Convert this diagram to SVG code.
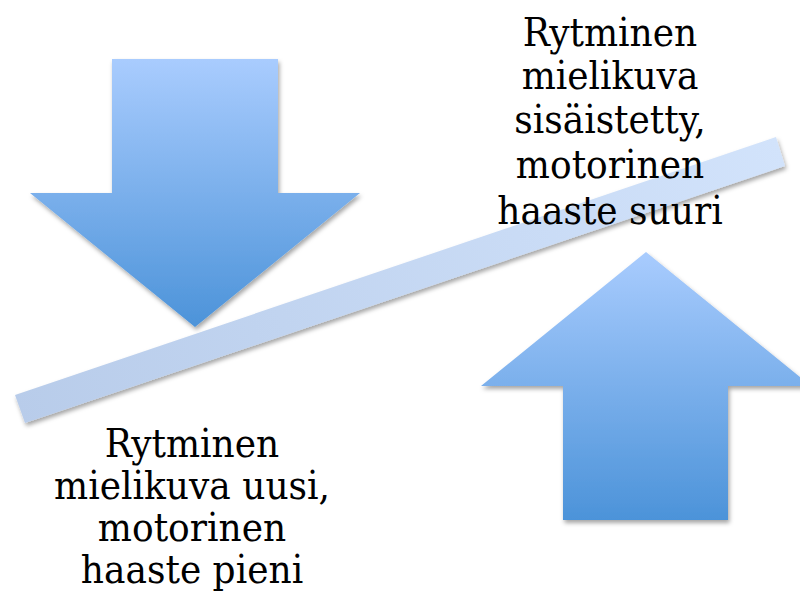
<svg xmlns="http://www.w3.org/2000/svg" width="800" height="597" viewBox="0 0 800 597">
  <defs>
    <linearGradient id="arrowGrad" x1="0" y1="0" x2="0" y2="1">
      <stop offset="0" stop-color="#A9CCFE"/>
      <stop offset="1" stop-color="#4C93D9"/>
    </linearGradient>
    <linearGradient id="barGrad" gradientUnits="userSpaceOnUse" x1="15" y1="409" x2="785" y2="151">
      <stop offset="0" stop-color="#B8CCEA"/>
      <stop offset="1" stop-color="#D2E3FB"/>
    </linearGradient>
    <filter id="shadow" x="-10%" y="-10%" width="120%" height="130%">
      <feDropShadow dx="1.5" dy="3" stdDeviation="2.2" flood-color="#000" flood-opacity="0.35"/>
    </filter>
  </defs>
  <style>
    .lbl { font-family: "DejaVu Serif", "Liberation Serif", serif; font-size: 36px; fill: #000; text-anchor: middle; }
    .arrow { fill: url(#arrowGrad); filter: url(#shadow); }
    .bar { fill: url(#barGrad); filter: url(#shadow); }
  </style>
  <rect x="0" y="0" width="800" height="597" fill="#FFFFFF"/>

  <g id="down-arrow">
    <polygon class="arrow" points="112,59 278,59 278,193 360,193 195,327 30,193 112,193"/>
  </g>

  <g id="up-arrow">
    <polygon class="arrow" points="646,252 811,386 728,386 728,520 563,520 563,386 481,386"/>
  </g>

  <g id="connectors">
    <polygon id="seesaw-bar" class="bar" points="15,395 776,137 785,166 25,423"/>
  </g>

  <g id="label-top">
    <text class="lbl" transform="translate(610,46) scale(1,1.1)">Rytminen</text>
    <text class="lbl" transform="translate(610,89) scale(1,1.1)">mielikuva</text>
    <text class="lbl" transform="translate(610,133) scale(1,1.1)">sisäistetty,</text>
    <text class="lbl" transform="translate(610,178) scale(1,1.1)">motorinen</text>
    <text class="lbl" transform="translate(610,224) scale(1,1.1)">haaste suuri</text>
  </g>

  <g id="label-bottom">
    <text class="lbl" transform="translate(192,457) scale(1,1.1)">Rytminen</text>
    <text class="lbl" transform="translate(192,499) scale(1,1.1)">mielikuva uusi,</text>
    <text class="lbl" transform="translate(192,541) scale(1,1.1)">motorinen</text>
    <text class="lbl" transform="translate(192,583) scale(1,1.1)">haaste pieni</text>
  </g>
</svg>
